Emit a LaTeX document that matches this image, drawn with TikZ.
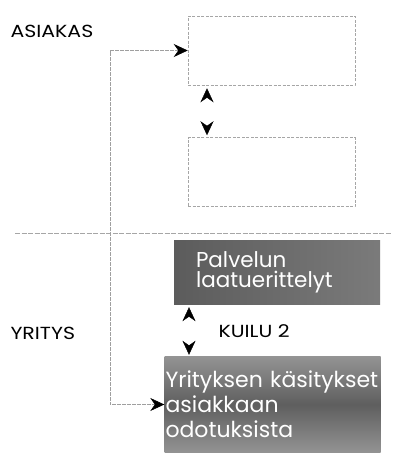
\documentclass[tikz,border=0pt]{standalone}
\usepackage{fontspec}
\setmainfont{Poppins}
\newfontfamily\sidefont[FakeStretch=1.17]{Poppins}
\usetikzlibrary{arrows.meta,positioning,calc}

\tikzset{
  frame/.style={draw=gray!70, dash pattern=on 3pt off 1.5pt, line width=0.5pt,
    minimum width=167pt, minimum height=69pt},
  darkbox/.style={text=white, align=left, inner ysep=0pt},
  side/.style={anchor=west, font=\sidefont\fontsize{17.5}{17.5}\selectfont},
  link/.style={draw=gray!75, line width=0.6pt, dash pattern=on 4pt off 1pt,
    arrows={Stealth[length=14pt,width=13pt,color=black]-Stealth[length=14pt,width=13pt,color=black]}},
  gap/.style={draw=white,
    arrows={Stealth[length=14pt,width=13pt,color=black]-Stealth[length=14pt,width=13pt,color=black]}},
  raja/.style={draw=gray!70, line width=0.5pt, dash pattern=on 5pt off 1.5pt}
}

\begin{document}
\begin{tikzpicture}[x=1pt,y=-1pt]
  \useasboundingbox (0,0) rectangle (392,453);
  % side labels
  \node[side] (asiakas) at (7,31) {ASIAKAS};
  \node[side] (yritys) at (7,333) {YRITYS};
  \node[side] (kuilu) at (215,331) {KUILU 2};
  % customer side (empty frames)
  \node[frame] (odotettu) at (271.5,50.5) {};
  \node[frame, below=52pt of odotettu] (koettu) {};
  % border between customer and company
  \coordinate (rajaL) at (15,233);
  \coordinate (rajaR) at (392,233);
  \draw[raja] (rajaL) -- (rajaR);
  % company side (dark boxes)
  \node[darkbox, left color=black!64, right color=black!52, minimum width=206pt, minimum height=64pt,
    inner xsep=22pt, text width=162pt, font=\fontsize{21.5}{20}\selectfont]
    (spec) at (277,272) {Palvelun\\laatuerittelyt};
  \node[darkbox, top color=black!42, bottom color=black!42, middle color=black!63, minimum width=215pt,
    minimum height=97pt, inner xsep=1pt, text width=214pt, font=\fontsize{22}{25}\selectfont]
    (kasitys) at (272.5,404.5) {\mbox{Yrityksen käsitykset}\\asiakkaan\\odotuksista};
  % gaps
  \draw[gap] ([xshift=-64.5pt,yshift=-3pt]odotettu.south) -- ([xshift=-64.5pt,yshift=2pt]koettu.north);
  \draw[gap] ([xshift=-88pt,yshift=-3pt]spec.south) -- ([xshift=-83.5pt,yshift=1pt]kasitys.north);
  % loop from company perceptions to expected service
  \coordinate (kulma) at (110,0);
  \draw[link] (odotettu.west) -- (odotettu.west -| kulma) -- (kasitys.west -| kulma) -- (kasitys.west);
\end{tikzpicture}
\end{document}
